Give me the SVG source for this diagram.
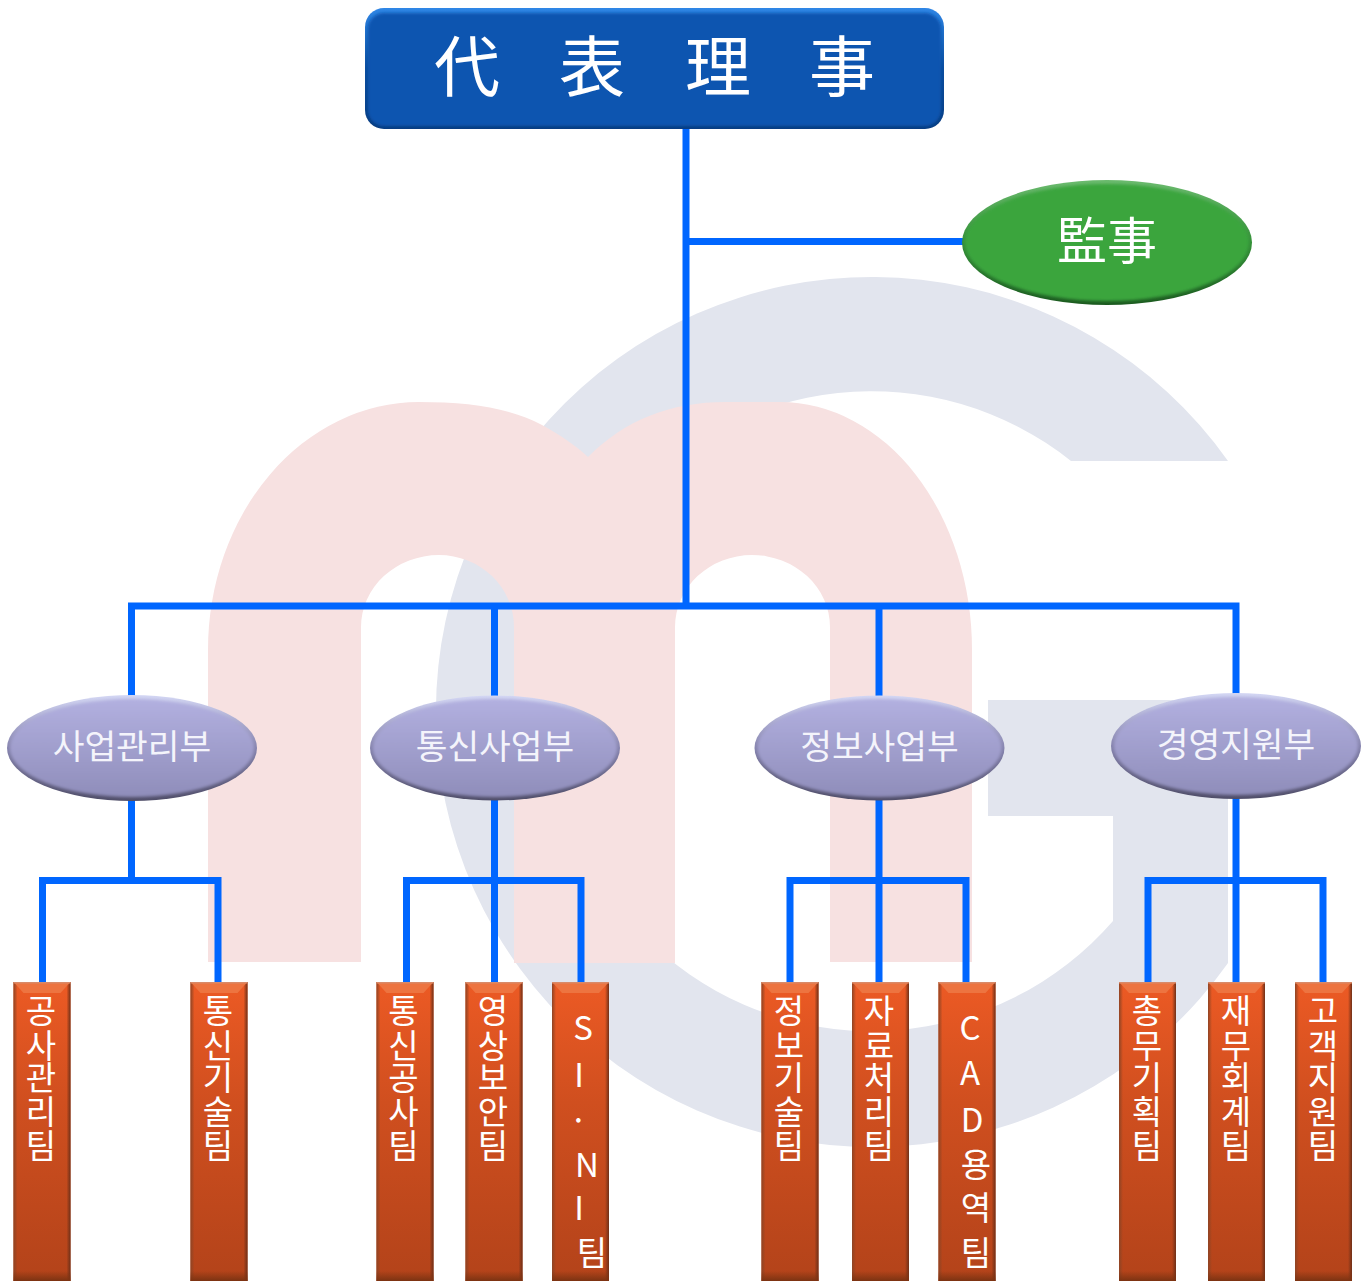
<svg xmlns="http://www.w3.org/2000/svg" width="1371" height="1281" viewBox="0 0 1371 1281">
<style>
text{font-family:"Noto Sans CJK KR","Noto Sans",sans-serif;fill:#fff;text-anchor:middle}
.conn{fill:none;stroke:#0066ff;stroke-width:7;stroke-linecap:butt;stroke-linejoin:miter}
.dept{font-size:34.500px;fill:#f4f4fb}
.team{font-size:33px}
.soft{filter:url(#soft)}
</style>
<defs>
<filter id="soft" x="-5%" y="-10%" width="110%" height="120%"><feGaussianBlur stdDeviation="1.500"/></filter>
<linearGradient id="pEdge" x1="0" y1="0" x2="0" y2="1"><stop offset="0" stop-color="#d4d7f4"/><stop offset=".5" stop-color="#8583ad"/><stop offset="1" stop-color="#4f4d68"/></linearGradient>
<linearGradient id="pFill" x1="0" y1="0" x2="0" y2="1"><stop offset="0" stop-color="#b2b0e0"/><stop offset="1" stop-color="#8f8dba"/></linearGradient>
<linearGradient id="gEdge" x1="0" y1="0" x2="0" y2="1"><stop offset="0" stop-color="#6dbb70"/><stop offset=".5" stop-color="#348f38"/><stop offset="1" stop-color="#1c5a20"/></linearGradient>
<linearGradient id="bEdge" x1="0" y1="0" x2="0" y2="1"><stop offset="0" stop-color="#2f86e6"/><stop offset=".5" stop-color="#0a4c9e"/><stop offset="1" stop-color="#083c80"/></linearGradient>
<linearGradient id="oFill" x1="0" y1="0" x2="0" y2="1"><stop offset="0" stop-color="#ec5a24"/><stop offset=".4" stop-color="#d04f1f"/><stop offset="1" stop-color="#b3431a"/></linearGradient>
<linearGradient id="oLeft" x1="0" y1="0" x2="1" y2="0"><stop offset="0" stop-color="#8e4424"/><stop offset="1" stop-color="#8e4424" stop-opacity="0"/></linearGradient>
<linearGradient id="oRight" x1="1" y1="0" x2="0" y2="0"><stop offset="0" stop-color="#6e3018"/><stop offset="1" stop-color="#6e3018" stop-opacity="0"/></linearGradient>
<linearGradient id="oBot" x1="0" y1="1" x2="0" y2="0"><stop offset="0" stop-color="#7c3312"/><stop offset="1" stop-color="#7c3312" stop-opacity="0"/></linearGradient>
<g id="box">
<rect x="0" y="0" width="57" height="299" fill="url(#oFill)"/>
<rect x="0" y="0" width="4" height="299" fill="url(#oLeft)"/>
<rect x="53" y="0" width="4" height="299" fill="url(#oRight)"/>
<rect x="0" y="289" width="57" height="10" fill="url(#oBot)"/>
<polygon points="1,1 56,1 47,11 10,11" fill="#ed7440"/>
<rect x="0" y="0" width="57" height="1.500" fill="#d98a68"/>
</g>
</defs>

<g id="background">
<path fill="#e2e5ee" d="M1228 461A436 435 0 1 0 1228 963L1228 700L988 700L988 816L1113 816L1113 921A320 320 0 1 1 1071 461Z"/>
<path fill="#f7e1e1" d="M208 962L208 650A211 248 0 0 1 419 402C470 402 510 408 542 425C560 435 575 445 588 457C625 420 670 402 726 402L780 402A192 248 0 0 1 972 650L972 962L830 962L830 627A78 72 0 0 0 752 555A77 72 0 0 0 675 627L675 963L514 963L514 627A75 72 0 0 0 439 555A78 72 0 0 0 361 627L361 962Z"/>
</g>

<g id="connectors">
<path class="conn" d="M686 128V606"/>
<path class="conn" d="M686 241.500H965"/>
<path class="conn" d="M131.500 697V606H1236V696"/>
<path class="conn" d="M494.500 606V697"/>
<path class="conn" d="M879 606V697"/>
<path class="conn" d="M131.500 800V880.500"/>
<path class="conn" d="M42.500 982V880.500H218V982"/>
<path class="conn" d="M494.500 800V982"/>
<path class="conn" d="M406.500 982V880.500H581V982"/>
<path class="conn" d="M879 800V982"/>
<path class="conn" d="M790 982V880.500H966V982"/>
<path class="conn" d="M1236 798V982"/>
<path class="conn" d="M1148 982V880.500H1323V982"/>
</g>

<g id="node-ceo">
<rect x="365" y="8" width="579" height="121" rx="19" fill="url(#bEdge)"/>
<rect x="368" y="13" width="573" height="113" rx="16" fill="#0b55b0" class="soft"/>
<text x="467 592 718 842" y="91" font-size="66">代表理事</text>
</g>

<g id="node-auditor">
<ellipse cx="1107" cy="242.500" rx="145" ry="62.500" fill="url(#gEdge)"/>
<ellipse cx="1107" cy="242.500" rx="142" ry="58.500" fill="#3aa53e" class="soft"/>
<text x="1082 1132" y="259" font-size="50">監事</text>
</g>

<g id="node-dept-1">
<ellipse cx="132" cy="748" rx="125" ry="53" fill="url(#pEdge)"/>
<ellipse cx="132" cy="748" rx="122" ry="49" fill="url(#pFill)" class="soft"/>
<text class="dept" x="132" y="759">사업관리부</text>
</g>
<g id="node-dept-2">
<ellipse cx="495" cy="748" rx="125" ry="52.500" fill="url(#pEdge)"/>
<ellipse cx="495" cy="748" rx="122" ry="49" fill="url(#pFill)" class="soft"/>
<text class="dept" x="495" y="759">통신사업부</text>
</g>
<g id="node-dept-3">
<ellipse cx="879.500" cy="748" rx="125" ry="52.500" fill="url(#pEdge)"/>
<ellipse cx="879.500" cy="748" rx="122" ry="49" fill="url(#pFill)" class="soft"/>
<text class="dept" x="879.500" y="759">정보사업부</text>
</g>
<g id="node-dept-4">
<ellipse cx="1236" cy="746" rx="125" ry="53" fill="url(#pEdge)"/>
<ellipse cx="1236" cy="746" rx="122" ry="49" fill="url(#pFill)" class="soft"/>
<text class="dept" x="1236" y="757">경영지원부</text>
</g>

<g id="node-team-1"><use href="#box" x="13.500" y="982"/><text class="team" x="41 41 41 41 41" y="1023 1058 1090 1124 1158">공사관리팀</text></g>
<g id="node-team-2"><use href="#box" x="190.500" y="982"/><text class="team" x="218 218 218 218 218" y="1023 1058 1090 1124 1158">통신기술팀</text></g>
<g id="node-team-3"><use href="#box" x="376.500" y="982"/><text class="team" x="403.500 403.500 403.500 403.500 403.500" y="1023 1058 1090 1124 1158">통신공사팀</text></g>
<g id="node-team-4"><use href="#box" x="465.500" y="982"/><text class="team" x="493 493 493 493 493" y="1023 1058 1090 1124 1158">영상보안팀</text></g>
<g id="node-team-5"><use href="#box" x="552" y="982"/><text class="team" x="583 579 578.500 587 579 592" y="1040 1087 1132 1177 1220 1265">SI·NI팀</text></g>
<g id="node-team-6"><use href="#box" x="761.500" y="982"/><text class="team" x="789 789 789 789 789" y="1023 1058 1090 1124 1158">정보기술팀</text></g>
<g id="node-team-7"><use href="#box" x="852" y="982"/><text class="team" x="879 879 879 879 879" y="1023 1058 1090 1124 1158">자료처리팀</text></g>
<g id="node-team-8"><use href="#box" x="938.500" y="982"/><text class="team" x="970 970 972 976 976 976" y="1040 1085 1132 1177 1220 1265">CAD용역팀</text></g>
<g id="node-team-9"><use href="#box" x="1119" y="982"/><text class="team" x="1147 1147 1147 1147 1147" y="1023 1058 1090 1124 1158">총무기획팀</text></g>
<g id="node-team-10"><use href="#box" x="1208" y="982"/><text class="team" x="1236 1236 1236 1236 1236" y="1023 1058 1090 1124 1158">재무회계팀</text></g>
<g id="node-team-11"><use href="#box" x="1295" y="982"/><text class="team" x="1323 1323 1323 1323 1323" y="1023 1058 1090 1124 1158">고객지원팀</text></g>
</svg>
